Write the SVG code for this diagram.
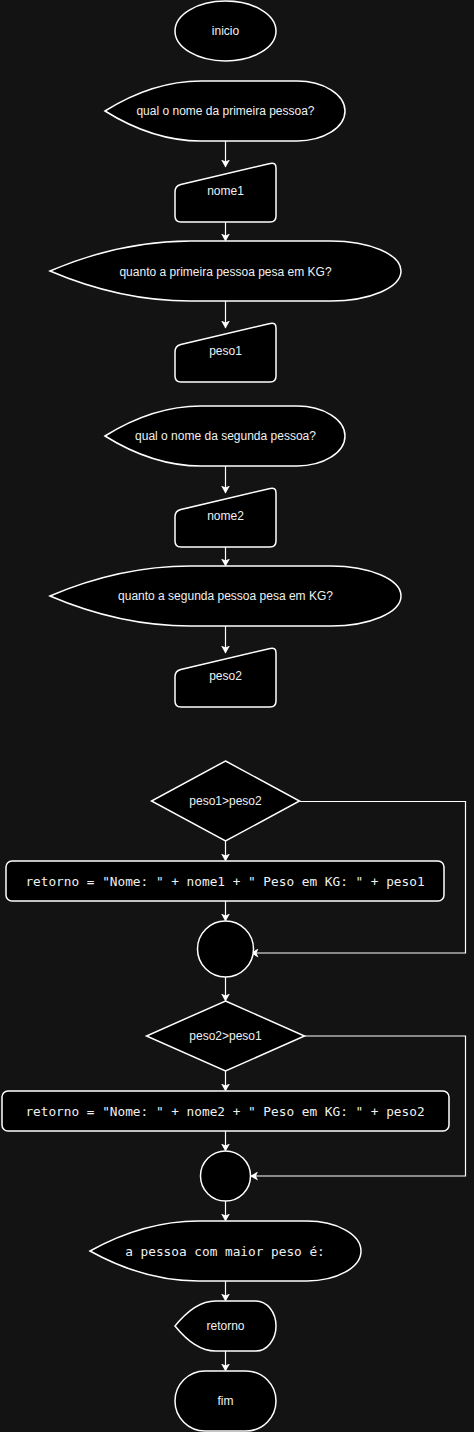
<svg xmlns="http://www.w3.org/2000/svg" width="474" height="1432" viewBox="0 0 474 1432">
<style>
.s{fill:#000;stroke:#fff;stroke-width:1.5}
.t{font-family:"Liberation Sans",Arial,sans-serif;font-size:12px;fill:#f0f0f0;text-anchor:middle}
.m{font-family:"DejaVu Sans Mono","Liberation Mono",monospace;font-size:12.75px;fill:#f0f0f0;text-anchor:middle}
.e{fill:none;stroke:#fff;stroke-width:1.2}
.ea{fill:none;stroke:#fff;stroke-width:1.2;marker-end:url(#arr)}
</style>
<defs>
<marker id="arr" viewBox="0 0 8 9" refX="7.5" refY="4.5" markerWidth="8" markerHeight="9" markerUnits="userSpaceOnUse" orient="auto">
<path d="M0,0 L8,4.5 L0,9 L2,4.5 Z" fill="#fff"/>
</marker>
<path id="mi" d="M0,30 Q0,24 5.8,22.6 L95.2,1.4 Q101,0 101,6 L101,54 Q101,60 95,60 L6,60 Q0,60 0,54 Z"/>
</defs>
<rect x="0" y="0" width="474" height="1432" fill="#131313"/>

<g id="connectors">
<path class="ea" d="M225.5,141 V167"/>
<path class="ea" d="M225.5,222 V241"/>
<path class="ea" d="M225.5,301 V328"/>
<path class="ea" d="M225.5,466 V493"/>
<path class="ea" d="M225.5,547 V566"/>
<path class="ea" d="M225.5,626 V653"/>
<path class="ea" d="M225.5,841 V861"/>
<path class="ea" d="M225.5,901 V921"/>
<path class="ea" d="M225.5,977 V1001"/>
<path class="ea" d="M225.5,1071 V1091"/>
<path class="ea" d="M225.5,1131 V1151"/>
<path class="ea" d="M225.5,1201 V1221"/>
<path class="ea" d="M225.5,1281 V1301"/>
<path class="ea" d="M225.5,1351 V1371"/>
<path class="ea" d="M299.5,801.5 H465.5 V953 H251"/>
<path class="ea" d="M304.5,1036 H465.5 V1176 H250.5"/>
</g>

<g id="inicio">
<ellipse class="s" cx="225.5" cy="31" rx="50.5" ry="30"/>
<text class="t" x="225.5" y="35">inicio</text>
</g>

<g id="perg_nome1">
<path class="s" d="M105,111 Q153,81 201,81 L297,81 A48,30 0 0 1 345,111 A48,30 0 0 1 297,141 L201,141 Q153,141 105,111 Z"/>
<text class="t" x="225.5" y="115">qual o nome da primeira pessoa?</text>
</g>

<g id="nome1" transform="translate(175,162)">
<use href="#mi" class="s"/>
<text class="t" x="50.5" y="33">nome1</text>
</g>

<g id="perg_peso1">
<path class="s" d="M50,271 Q120.2,241 190.4,241 L330.8,241 A70.2,30 0 0 1 401,271 A70.2,30 0 0 1 330.8,301 L190.4,301 Q120.2,301 50,271 Z"/>
<text class="t" x="225.5" y="275.5">quanto a primeira pessoa pesa em KG?</text>
</g>

<g id="peso1" transform="translate(175,322)">
<use href="#mi" class="s"/>
<text class="t" x="50.5" y="33">peso1</text>
</g>

<g id="perg_nome2">
<path class="s" d="M105,436 Q153,406 201,406 L297,406 A48,30 0 0 1 345,436 A48,30 0 0 1 297,466 L201,466 Q153,466 105,436 Z"/>
<text class="t" x="225.5" y="440">qual o nome da segunda pessoa?</text>
</g>

<g id="nome2" transform="translate(175,487)">
<use href="#mi" class="s"/>
<text class="t" x="50.5" y="33">nome2</text>
</g>

<g id="perg_peso2">
<path class="s" d="M50,596 Q120.2,566 190.4,566 L330.8,566 A70.2,30 0 0 1 401,596 A70.2,30 0 0 1 330.8,626 L190.4,626 Q120.2,626 50,596 Z"/>
<text class="t" x="225.5" y="600">quanto a segunda pessoa pesa em KG?</text>
</g>

<g id="peso2" transform="translate(175,647)">
<use href="#mi" class="s"/>
<text class="t" x="50.5" y="33">peso2</text>
</g>

<g id="dec1">
<polygon class="s" points="225.5,761 299.5,801 225.5,841 151.5,801"/>
<text class="t" x="225.5" y="805">peso1&gt;peso2</text>
</g>

<g id="proc1">
<rect class="s" x="6" y="861" width="438" height="40" rx="6"/>
<text class="m" x="225" y="886">retorno = "Nome: " + nome1 + " Peso em KG: " + peso1</text>
</g>

<g id="junc1">
<circle class="s" cx="225.5" cy="949" r="28"/>
</g>

<g id="dec2">
<polygon class="s" points="225.5,1001 304.5,1036 225.5,1071 146.5,1036"/>
<text class="t" x="225.5" y="1040">peso2&gt;peso1</text>
</g>

<g id="proc2">
<rect class="s" x="2" y="1091" width="447" height="40" rx="6"/>
<text class="m" x="225" y="1116">retorno = "Nome: " + nome2 + " Peso em KG: " + peso2</text>
</g>

<g id="junc2">
<circle class="s" cx="225.5" cy="1176" r="25"/>
</g>

<g id="msg">
<path class="s" d="M90,1251 Q144.2,1221 198.4,1221 L306.8,1221 A54.2,30 0 0 1 361,1251 A54.2,30 0 0 1 306.8,1281 L198.4,1281 Q144.2,1281 90,1251 Z"/>
<text class="m" x="225" y="1255.5">a pessoa com maior peso é:</text>
</g>

<g id="retorno">
<path class="s" d="M175,1326 Q195.2,1301 215.4,1301 L255.8,1301 A20.2,25 0 0 1 276,1326 A20.2,25 0 0 1 255.8,1351 L215.4,1351 Q195.2,1351 175,1326 Z"/>
<text class="t" x="225.5" y="1330">retorno</text>
</g>

<g id="fim">
<rect class="s" x="175" y="1371" width="101" height="60" rx="30"/>
<text class="t" x="225.5" y="1405">fim</text>
</g>
</svg>
